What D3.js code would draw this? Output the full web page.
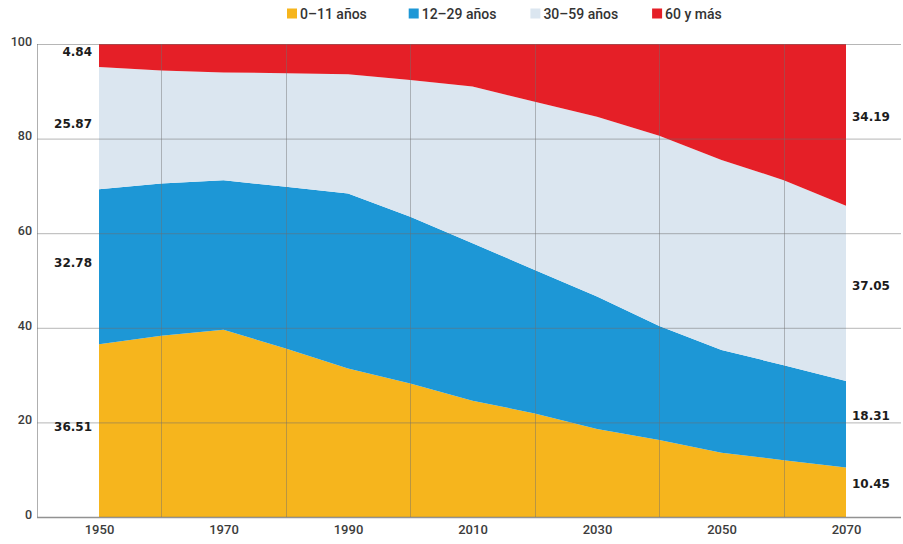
<!DOCTYPE html>
<html>
<head>
<meta charset="utf-8">
<script src="https://cdn.jsdelivr.net/npm/d3@7"></script>
<style>
  html, body { margin: 0; padding: 0; background: #fff; }
  svg { display: block; }
</style>
</head>
<body>
<svg id="chart" width="903" height="544"></svg>
<script>
// ---- Data ----
const years = [1950, 1960, 1970, 1980, 1990, 2000, 2010, 2020, 2030, 2040, 2050, 2060, 2070];
const age0to11  = [36.51, 38.3, 39.6, 35.6, 31.4, 28.2, 24.6, 21.9, 18.6, 16.3, 13.6, 12.0, 10.45];
const age12to29 = [32.78, 32.2, 31.6, 34.2, 37.0, 35.3, 33.3, 30.3, 28.0, 24.1, 21.7, 20.1, 18.31];
const age30to59 = [25.87, 23.9, 22.8, 24.0, 25.2, 28.9, 33.1, 35.6, 38.0, 40.2, 40.2, 39.1, 37.05];
const age60plus = [4.84, 5.6, 6.0, 6.2, 6.4, 7.6, 9.0, 12.2, 15.4, 19.4, 24.5, 28.8, 34.19];
const seriesNames = ["0–11 años", "12–29 años", "30–59 años", "60 y más"];
const seriesColors = ["#f6b51d", "#1d97d6", "#dbe6f0", "#e51f27"];
const xTickLabels = [1950, 1970, 1990, 2010, 2030, 2050, 2070];
const xGridYears = [1960, 1980, 2000, 2020, 2040, 2060];
const yTickLabels = [0, 20, 40, 60, 80, 100];

// ---- Build table ----
const keys = ["a", "b", "c", "d"];
const allSeries = [age0to11, age12to29, age30to59, age60plus];
const table = years.map((yr, i) => ({ year: yr, a: age0to11[i], b: age12to29[i], c: age30to59[i], d: age60plus[i] }));
const stacked = d3.stack().keys(keys)(table);

const svg = d3.select("#chart");
const x = d3.scaleLinear().domain([1950, 2070]).range([99, 846]);
const y = d3.scaleLinear().domain([0, 100]).range([517, 44]);
const gridLeft = 37, gridRight = 901;

// ---- Areas ----
const area = d3.area()
  .x(d => x(d.data.year))
  .y0(d => y(d[0]))
  .y1(d => y(d[1]));

svg.append("g").selectAll("path")
  .data(stacked)
  .join("path")
  .attr("d", area)
  .attr("fill", (d, i) => seriesColors[i]);

// ---- Grid ----
const grid = svg.append("g");
grid.selectAll("line.h")
  .data(yTickLabels)
  .join("line")
  .attr("class", "h")
  .attr("x1", gridLeft).attr("x2", gridRight)
  .attr("y1", d => y(d) + 0.5).attr("y2", d => y(d) + 0.5)
  .attr("stroke", "#6e6e6e")
  .attr("stroke-opacity", d => d === 0 ? 0.75 : 0.5)
  .attr("stroke-width", d => d === 0 ? 1.5 : 1);

grid.selectAll("line.v")
  .data(xGridYears)
  .join("line")
  .attr("class", "v")
  .attr("x1", d => Math.round(x(d)) + 0.5).attr("x2", d => Math.round(x(d)) + 0.5)
  .attr("y1", y(100)).attr("y2", y(0))
  .attr("stroke", "#6e6e6e")
  .attr("stroke-opacity", 0.45);

grid.append("line")
  .attr("x1", gridLeft + 0.5).attr("x2", gridLeft + 0.5)
  .attr("y1", y(100)).attr("y2", y(0))
  .attr("stroke", "#6e6e6e").attr("stroke-opacity", 0.55);

// ---- Axes ----
const yAxis = d3.axisLeft(y).tickValues(yTickLabels).tickSize(0).tickPadding(0);
const yg = svg.append("g").attr("transform", `translate(${gridLeft - 5},0)`).call(yAxis);
yg.select(".domain").remove();
yg.selectAll("text")
  .attr("font-family", "Roboto, sans-serif")
  .attr("font-size", 12.5)
  .attr("font-weight", 500)
  .attr("fill", "#3c3c3c")
  .attr("dy", "0.1em");

const xAxis = d3.axisBottom(x).tickValues(xTickLabels).tickFormat(d3.format("d")).tickSize(0).tickPadding(0);
const xg = svg.append("g").attr("transform", `translate(0,${y(0) + 8})`).call(xAxis);
xg.select(".domain").remove();
xg.selectAll("text")
  .attr("font-family", "Roboto, sans-serif")
  .attr("font-size", 13)
  .attr("font-weight", 500)
  .attr("fill", "#3c3c3c");

// ---- Value labels ----
const first = 0, last = years.length - 1;
const labelFont = "'DejaVu Sans', sans-serif";
const labelsG = svg.append("g");
stacked.forEach((s, i) => {
  const l = s[first], r = s[last];
  labelsG.append("text")
    .attr("x", x(1950) - 7)
    .attr("y", (y(l[0]) + y(l[1])) / 2 - 4)
    .attr("dy", "0.35em")
    .attr("text-anchor", "end")
    .attr("font-family", labelFont)
    .attr("font-weight", "bold")
    .attr("font-size", 12)
    .attr("fill", "#1c1c1c")
    .text(d3.format(".2f")(allSeries[i][first]));
  labelsG.append("text")
    .attr("x", x(2070) + 6)
    .attr("y", (y(r[0]) + y(r[1])) / 2 - 8)
    .attr("dy", "0.35em")
    .attr("text-anchor", "start")
    .attr("font-family", labelFont)
    .attr("font-weight", "bold")
    .attr("font-size", 12)
    .attr("fill", "#1c1c1c")
    .text(d3.format(".2f")(allSeries[i][last]));
});

// ---- Legend ----
const legend = svg.append("g").attr("transform", "translate(287,0)");
const items = legend.selectAll("g")
  .data(seriesNames)
  .join("g")
  .attr("transform", (d, i) => `translate(${i * 121.7},0)`);
items.append("rect")
  .attr("x", 0).attr("y", 8.5)
  .attr("width", 10).attr("height", 10)
  .attr("fill", (d, i) => seriesColors[i]);
items.append("text")
  .attr("x", 13).attr("y", 18.5)
  .attr("font-family", "Roboto, sans-serif")
  .attr("font-size", 14)
  .attr("font-weight", 500)
  .attr("fill", "#333")
  .text(d => d);
</script>
</body>
</html>
